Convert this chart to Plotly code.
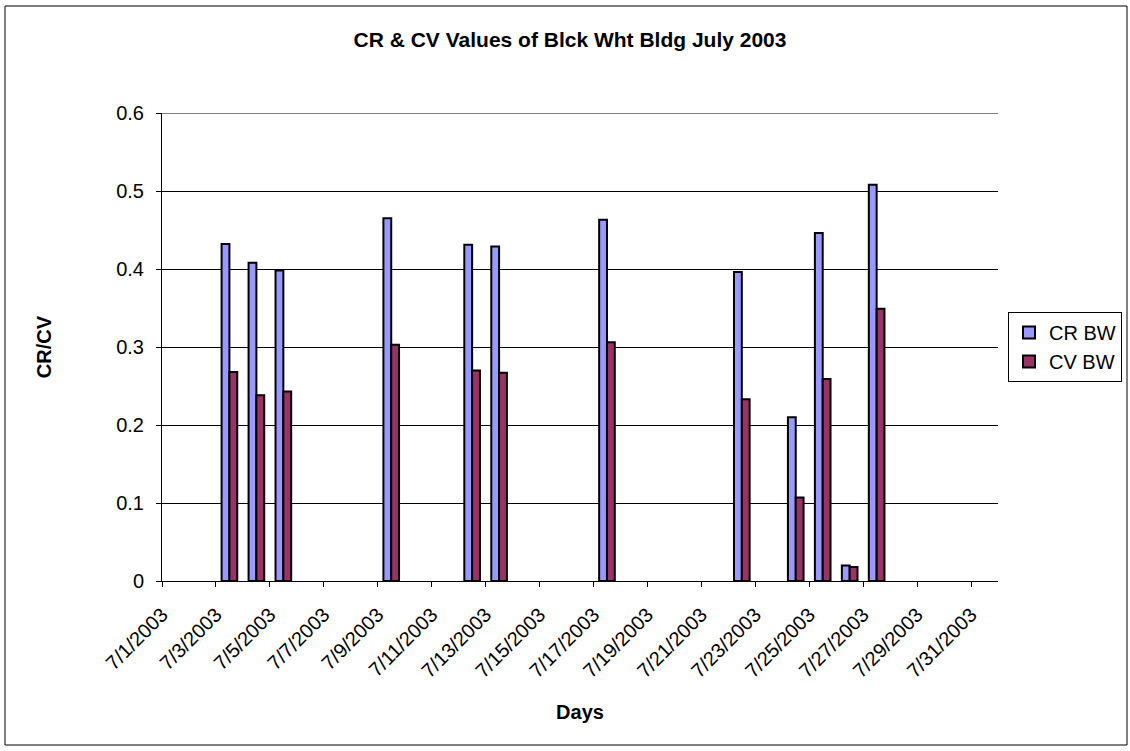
import plotly.graph_objects as go

# Daily CR / CV readings, Black-White building, July 2003
days = ["2003-07-03", "2003-07-04", "2003-07-05", "2003-07-09", "2003-07-12", "2003-07-13",
        "2003-07-17", "2003-07-22", "2003-07-24", "2003-07-25", "2003-07-26", "2003-07-27"]
cr_bw = [0.432, 0.408, 0.398, 0.465, 0.431, 0.429, 0.463, 0.396, 0.210, 0.446, 0.020, 0.508]
cv_bw = [0.268, 0.238, 0.243, 0.303, 0.270, 0.267, 0.306, 0.233, 0.107, 0.259, 0.018, 0.349]

# Date axis: every other day from 7/1 to 7/31
tick_days = ["2003-07-%02d" % d for d in range(1, 32, 2)]
y_ticks = [0, 0.1, 0.2, 0.3, 0.4, 0.5, 0.6]

FONT = "Arial, Liberation Sans, sans-serif"
DAY_MS = 86400000

fig = go.Figure()
fig.add_trace(go.Bar(
    name="CR BW", x=days, y=cr_bw, xperiod=DAY_MS, xperiodalignment="middle",
    marker=dict(color="#9999FF", line=dict(color="black", width=2)),
))
fig.add_trace(go.Bar(
    name="CV BW", x=days, y=cv_bw, xperiod=DAY_MS, xperiodalignment="middle",
    marker=dict(color="#993366", line=dict(color="black", width=2)),
))

W, H = 1130, 751
L, R, T, B = 162, 132, 113, 170
pw, ph = W - L - R, H - T - B


def px_x(v):
    return (v - L) / pw


def px_y(v):
    return (H - B - v) / ph


fig.update_layout(
    width=W, height=H,
    margin=dict(l=L, r=R, t=T, b=B, autoexpand=False),
    paper_bgcolor="white", plot_bgcolor="white",
    font=dict(family=FONT, size=20, color="black"),
    barmode="group", bargap=0.42, bargroupgap=0,
    title=dict(text="<b>CR & CV Values of Blck Wht Bldg July 2003</b>",
               font=dict(size=21, color="black"),
               x=570 / W, xref="container", xanchor="center",
               y=1 - 40 / H, yref="container", yanchor="middle"),
    showlegend=True,
    legend=dict(x=px_x(1008), y=px_y(347), xanchor="left", yanchor="middle",
                bordercolor="black", borderwidth=1, bgcolor="white",
                font=dict(size=20, color="black"), traceorder="normal"),
    xaxis=dict(
        type="date", range=["2003-07-01", "2003-08-01"],
        tickmode="array", tickvals=tick_days, tickformat="%-m/%-d/%Y",
        tickangle=-45, ticks="outside", ticklen=5, tickcolor="black",
        ticklabelstandoff=8,
        showline=True, linecolor="black", linewidth=1, showgrid=False,
        tickfont=dict(size=20), automargin=False,
        title=dict(text="<b>Days</b>", font=dict(size=20), standoff=24),
    ),
    yaxis=dict(
        range=[0, 0.6], tickmode="array", tickvals=y_ticks,
        ticktext=[("%g" % v) for v in y_ticks],
        ticks="outside", ticklen=5, tickcolor="black", ticklabelstandoff=8,
        showline=True, linecolor="black", linewidth=1,
        showgrid=True, gridcolor="black", gridwidth=1, zeroline=False,
        tickfont=dict(size=20), automargin=False,
        title=dict(text="<b>CR/CV</b>", font=dict(size=20), standoff=59),
    ),
)

# Top gridline at the axis maximum
fig.add_shape(type="line", xref="paper", yref="y", x0=0, x1=1,
              y0=max(y_ticks), y1=max(y_ticks),
              line=dict(color="black", width=1), layer="below")

# Chart-area frame
fig.add_shape(type="rect", xref="paper", yref="paper",
              x0=px_x(5), x1=px_x(1127), y0=px_y(745), y1=px_y(6),
              line=dict(color="black", width=1), fillcolor="rgba(0,0,0,0)", layer="below")

fig.write_html("out.html")
